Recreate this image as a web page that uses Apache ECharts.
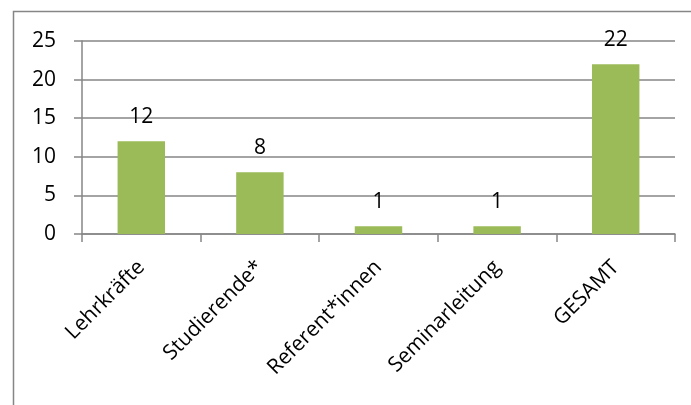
<!DOCTYPE html>
<html>
<head>
<meta charset="utf-8">
<script src="https://cdn.jsdelivr.net/npm/echarts@6/dist/echarts.min.js"></script>
<style>
  html, body { margin: 0; padding: 0; background: #fff; }
  #chart { width: 691px; height: 405px; }
</style>
</head>
<body>
<div id="chart"></div>
<script>
// Teilnehmende nach Gruppe
const categories = ['Lehrkräfte', 'Studierende*', 'Referent*innen', 'Seminarleitung', 'GESAMT'];
const counts = [12, 8, 1, 1, 22];
const yTicks = { min: 0, max: 25, interval: 5 };

const FONT = '"Open Sans", "Liberation Sans", sans-serif';
const GRAY = '#868686';

const chart = echarts.init(document.getElementById('chart'));
chart.setOption({
  animation: false,
  backgroundColor: '#fff',
  graphic: [{
    type: 'rect',
    shape: { x: 13.5, y: 11.5, width: 800, height: 600 },
    style: { fill: 'none', stroke: GRAY, lineWidth: 1.5 },
    silent: true
  }],
  grid: { left: 82, right: 16, top: 41, bottom: 171, containLabel: false },
  xAxis: {
    type: 'category',
    data: categories,
    axisLine: { lineStyle: { color: GRAY, width: 1.5 } },
    axisTick: { show: true, length: 8, alignWithLabel: false, lineStyle: { color: GRAY, width: 1.5 } },
    axisLabel: {
      rotate: 45, margin: 30, padding: [10, 0, 0, 0], color: '#000',
      fontFamily: FONT, fontSize: 21, interval: 0
    },
    splitLine: { show: false }
  },
  yAxis: {
    type: 'value',
    min: yTicks.min, max: yTicks.max, interval: yTicks.interval,
    axisLine: { show: true, lineStyle: { color: GRAY, width: 1.5 } },
    axisTick: { show: true, length: 8, lineStyle: { color: GRAY, width: 1.5 } },
    axisLabel: { margin: 26, color: '#000', fontFamily: FONT, fontSize: 21 },
    splitLine: { show: true, lineStyle: { color: GRAY, width: 1.5 } }
  },
  series: [{
    type: 'bar',
    data: counts,
    barWidth: '40%',
    itemStyle: { color: '#9BBB59' },
    label: {
      show: true, position: 'top', distance: 14,
      color: '#000', fontFamily: FONT, fontSize: 21
    }
  }]
});
</script>
</body>
</html>
